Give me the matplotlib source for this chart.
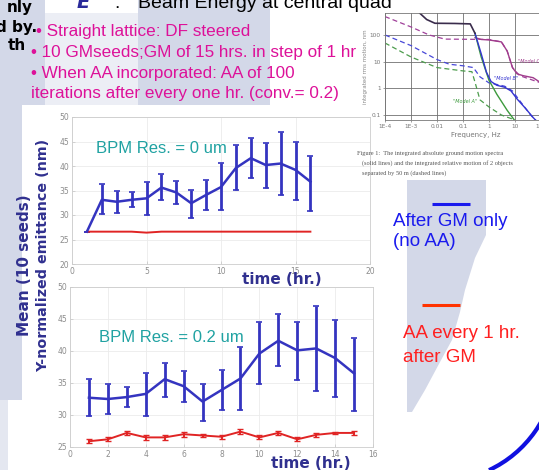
import numpy as np
import matplotlib
matplotlib.use("Agg")
import matplotlib.pyplot as plt
from matplotlib.patches import Rectangle, Polygon, Arc

W, H = 539, 470

# ---- data ----
# top panel: BPM resolution 0 um
t_top = [1, 2, 3, 4, 5, 6, 7, 8, 9, 10, 11, 12, 13, 14, 15, 16]
top_gm = [26.6, 33.1, 32.7, 33.1, 33.4, 35.6, 34.6, 32.4, 34.1, 35.7, 39.6, 41.6, 40.2, 40.5, 39.2, 36.8]
top_gm_lo = [26.6, 30.2, 30.5, 31.6, 30.0, 33.1, 32.2, 29.3, 31.0, 31.0, 35.1, 37.6, 35.6, 34.0, 33.1, 30.9]
top_gm_hi = [26.6, 36.4, 35.0, 34.6, 36.8, 38.3, 37.0, 35.1, 37.1, 40.7, 44.3, 45.7, 44.6, 46.9, 44.8, 42.0]
top_aa = [26.6, 26.6, 26.6, 26.6, 26.4, 26.6, 26.6, 26.6, 26.6, 26.6, 26.6, 26.6, 26.6, 26.6, 26.6, 26.6]

# bottom panel: BPM resolution 0.2 um
t_bot = [1, 2, 3, 4, 5, 6, 7, 8, 9, 10, 11, 12, 13, 14, 15]
bot_gm = [32.7, 32.5, 32.8, 33.3, 35.6, 34.5, 32.1, 33.9, 35.7, 39.6, 41.6, 40.1, 40.4, 38.9, 36.5]
bot_gm_lo = [29.9, 30.2, 31.3, 29.8, 32.8, 32.1, 29.1, 30.8, 30.8, 34.9, 37.6, 35.4, 33.8, 32.8, 30.6]
bot_gm_hi = [35.7, 34.8, 34.3, 36.6, 38.2, 36.9, 34.8, 37.0, 40.7, 44.5, 45.8, 44.6, 47.1, 44.9, 42.1]
bot_aa = [25.9, 26.2, 27.2, 26.5, 26.5, 27.0, 26.8, 26.6, 27.4, 26.5, 27.2, 26.2, 26.9, 27.2, 27.2]
bot_aa_err = [0.3, 0.3, 0.35, 0.35, 0.35, 0.4, 0.3, 0.3, 0.4, 0.3, 0.35, 0.3, 0.35, 0.2, 0.35]

# inset: ground motion spectra (Hz, nm)
f_all = [0.0022, 0.004, 0.0083, 0.05, 0.19, 0.29]
v_all = [650, 380, 275, 270, 260, 115]
f_c = [0.29, 0.5, 1, 3, 5, 8, 12, 20, 50, 100]
v_c = [80, 68, 65, 55, 25, 6, 3.5, 3, 2.5, 1.6]
f_b = [0.29, 0.5, 0.8, 1.2, 2, 4, 7, 12, 25, 50, 80]
v_b = [115, 20, 4, 1.8, 1.3, 1.1, 0.8, 0.4, 0.18, 0.08, 0.05]
f_a = [0.29, 0.5, 1, 2, 5, 10]
v_a = [115, 15, 2, 0.6, 0.15, 0.06]
f_cd = [1e-4, 1e-3, 0.005, 0.02, 1, 3, 5, 8, 15, 50, 100]
v_cd = [490, 200, 100, 70, 68, 55, 25, 6, 3, 2, 1.6]
f_bd = [1e-4, 1e-3, 0.01, 0.03, 0.1, 0.25, 0.45, 1, 2, 4, 8, 15, 40, 80]
v_bd = [100, 40, 12, 8, 7, 6, 2.7, 1.6, 1.4, 1.2, 0.8, 0.35, 0.1, 0.05]
f_ad = [1e-4, 1e-3, 0.01, 0.1, 0.22, 0.3, 0.45, 1, 3, 10]
v_ad = [50, 15, 6, 4.5, 4.2, 1.5, 0.37, 0.2, 0.1, 0.065]


def box(l, t, r, b):
    return [l / W, 1 - b / H, (r - l) / W, (b - t) / H]


LAV = "#d3d8e8"
NAVY = "#30308f"
TEAL = "#20a2a2"
PINK = "#dd1199"
BLUE = "#3434c0"
RED = "#e02424"

fig = plt.figure(figsize=(W / 100, H / 100), dpi=100)

# background decoration (pixel coordinates)
bg = fig.add_axes([0, 0, 1, 1], zorder=-5)
bg.set_xlim(0, W)
bg.set_ylim(H, 0)
bg.axis("off")
bg.add_patch(Rectangle((0, 0), 22, 400, color=LAV, lw=0))
bg.add_patch(Rectangle((0, 400), 8, 70, color="#e4e7f0", lw=0))
bg.add_patch(Rectangle((22, 0), 23, 105, color=LAV, lw=0))
bg.add_patch(Rectangle((45, 13), 93, 92, color="#eceef5", lw=0))
bg.add_patch(Rectangle((138, 0), 132, 105, color=LAV, lw=0))
bg.add_patch(Polygon([(407, 180), (486, 180), (486, 235), (475, 258), (465, 290),
                      (460, 312), (452, 340), (440, 362), (425, 390), (412, 412),
                      (407, 412)], closed=True, color=LAV, lw=0))


def style(ax, xt, yt):
    ax.set_facecolor("none")
    ax.set_xticks(xt)
    ax.set_yticks(yt)
    ax.grid(True, color="#ebebeb", lw=0.6)
    ax.tick_params(direction="in", length=2, width=0.5, colors="#c4c4c4",
                   labelcolor="#8c8c8c", labelsize=5.5, pad=2)
    for s in ax.spines.values():
        s.set_color("#cccccc")
        s.set_linewidth(0.6)


# top panel
ax1 = fig.add_axes(box(72, 117, 370, 264))
ax1.errorbar(t_top, top_gm,
             yerr=[np.subtract(top_gm, top_gm_lo), np.subtract(top_gm_hi, top_gm)],
             color=BLUE, lw=1.8, elinewidth=2, capsize=2.5, capthick=1.2)
ax1.plot(t_top, top_aa, color=RED, lw=1.4)
ax1.set_xlim(0, 20)
ax1.set_ylim(20, 50)
style(ax1, [0, 5, 10, 15, 20], [20, 25, 30, 35, 40, 45, 50])

# bottom panel
ax2 = fig.add_axes(box(70, 287, 373, 447))
ax2.errorbar(t_bot, bot_gm,
             yerr=[np.subtract(bot_gm, bot_gm_lo), np.subtract(bot_gm_hi, bot_gm)],
             color=BLUE, lw=1.8, elinewidth=2, capsize=2.5, capthick=1.2)
ax2.errorbar(t_bot, bot_aa, yerr=bot_aa_err, color=RED, lw=1.4,
             elinewidth=1.4, capsize=2, capthick=1)
ax2.set_xlim(0, 16)
ax2.set_ylim(25, 50)
style(ax2, range(0, 17, 2), [25, 30, 35, 40, 45, 50])

# inset: ground motion figure
ax3 = fig.add_axes(box(385, 12.7, 567, 120))
ax3.set_xscale("log")
ax3.set_yscale("log")
ax3.plot(f_cd, v_cd, color="#a0409a", lw=0.9, ls=(0, (4, 2.5)))
ax3.plot(f_bd, v_bd, color="#4848d8", lw=0.9, ls=(0, (4, 2.5)))
ax3.plot(f_ad, v_ad, color="#4c9c4c", lw=0.9, ls=(0, (4, 2.5)))
ax3.plot(f_c, v_c, color="#a03c8c", lw=1.0)
ax3.plot(f_a, v_a, color="#3c9a3c", lw=1.0)
ax3.plot(f_b, v_b, color="#3434d0", lw=1.0)
ax3.plot(f_all, v_all, color="#3a2c4c", lw=1.2)
ax3.text(13, 9, '"Model C"', color="#a03c8c", fontsize=3.5, style="italic")
ax3.text(4.5, 2.0, '"Model B"', color="#3434d0", fontsize=3.5, style="italic", ha="center")
ax3.text(0.12, 0.28, '"Model A"', color="#3c9a3c", fontsize=3.5, style="italic", ha="center")
ax3.set_xlim(1e-4, 1e3)
ax3.set_ylim(10 ** -1.187, 10 ** 2.835)
ax3.set_xticks([1e-4, 1e-3, 1e-2, 1e-1, 1, 10, 100, 1000])
ax3.set_xticklabels(["1E-4", "1E-3", "0.01", "0.1", "1", "10", "100", "1000"])
ax3.set_yticks([0.1, 1, 10, 100])
ax3.set_yticklabels(["0.1", "1", "10", "100"])
ax3.minorticks_off()
ax3.grid(True, color="#707070", lw=0.6)
ax3.tick_params(length=1.5, width=0.5, colors="#777777", labelsize=4.2, pad=1.5)
ax3.set_xlabel("Frequency, Hz", fontsize=5, color="#777777", labelpad=2)
ax3.set_ylabel("integrated rms motion, nm", fontsize=4, color="#888888", labelpad=1)
for s in ax3.spines.values():
    s.set_color("#777777")
    s.set_linewidth(0.6)

# foreground text (pixel coordinates)
ov = fig.add_axes([0, 0, 1, 1], zorder=5)
ov.set_xlim(0, W)
ov.set_ylim(H, 0)
ov.axis("off")
ov.patch.set_alpha(0)

ov.text(33, 12, "nly", ha="right", va="baseline", fontsize=11, fontweight="bold")
ov.text(37, 32, "d by.", ha="right", va="baseline", fontsize=11, fontweight="bold")
ov.text(26, 50, "th", ha="right", va="baseline", fontsize=11, fontweight="bold")
ov.text(77, 8, "E", va="baseline", fontsize=14, fontweight="bold", style="italic", color="#2a2a9a")
ov.text(114, 8, ":", va="baseline", fontsize=14, family="Liberation Sans")
ov.text(138, 8, "Beam Energy at central quad", va="baseline", fontsize=14,
        family="Liberation Sans")

pink = dict(va="baseline", fontsize=12.3, color=PINK, family="Liberation Sans")
ov.text(36, 36, "\u2022 Straight lattice: DF steered", **pink)
ov.text(31, 57, "\u2022 10 GMseeds;GM of 15 hrs. in step of 1 hr", **pink)
ov.text(31, 78, "\u2022 When AA incorporated: AA of 100", **pink)
ov.text(31, 98, "iterations after every one hr. (conv.= 0.2)", **pink)

cap = dict(fontsize=4.6, color="#555555", family="Liberation Serif", va="baseline")
ov.text(357, 155, "Figure 1:  The integrated absolute ground motion spectra", **cap)
ov.text(362, 165, "(solid lines) and the integrated relative motion of 2 objects", **cap)
ov.text(362, 175, "separated by 50 m (dashed lines)", **cap)

ov.text(96, 153, "BPM Res. = 0 um", va="baseline", fontsize=12, color=TEAL,
        family="Liberation Sans")
ov.text(99, 342, "BPM Res. = 0.2 um", va="baseline", fontsize=12, color=TEAL,
        family="Liberation Sans")

ov.text(282, 279, "time (hr.)", ha="center", va="center", fontsize=11,
        fontweight="bold", color=NAVY)
ov.text(311, 463, "time (hr.)", ha="center", va="center", fontsize=11,
        fontweight="bold", color=NAVY)
ov.text(25, 265, "Mean (10 seeds)", ha="center", va="center", rotation=90,
        fontsize=11, fontweight="bold", color=NAVY)
ov.text(43, 255, "Y-normalized emittance (nm)", ha="center", va="center",
        rotation=90, fontsize=10.3, fontweight="bold", color=NAVY)

# legend-like annotations
ov.plot([432, 470], [204, 204], color="#1a1aee", lw=2.2, solid_capstyle="butt")
ov.text(393, 226, "After GM only", va="baseline", fontsize=13.5, color="#1a1aee",
        family="Liberation Sans")
ov.text(393, 246, "(no AA)", va="baseline", fontsize=13.5, color="#1a1aee",
        family="Liberation Sans")
ov.plot([422, 460], [305, 305], color="#ff3300", lw=2.2, solid_capstyle="butt")
ov.text(403, 338, "AA every 1 hr.", va="baseline", fontsize=13.5, color="#ff2020",
        family="Liberation Sans")
ov.text(403, 362, "after GM", va="baseline", fontsize=13.5, color="#ff2020",
        family="Liberation Sans")

# y axis of the overlay is inverted, so positive angles run downward here
ov.add_patch(Arc((440, 365), 232, 232, theta1=5, theta2=65, color="#1010e0", lw=3))

fig.savefig("out.png", dpi=100)
